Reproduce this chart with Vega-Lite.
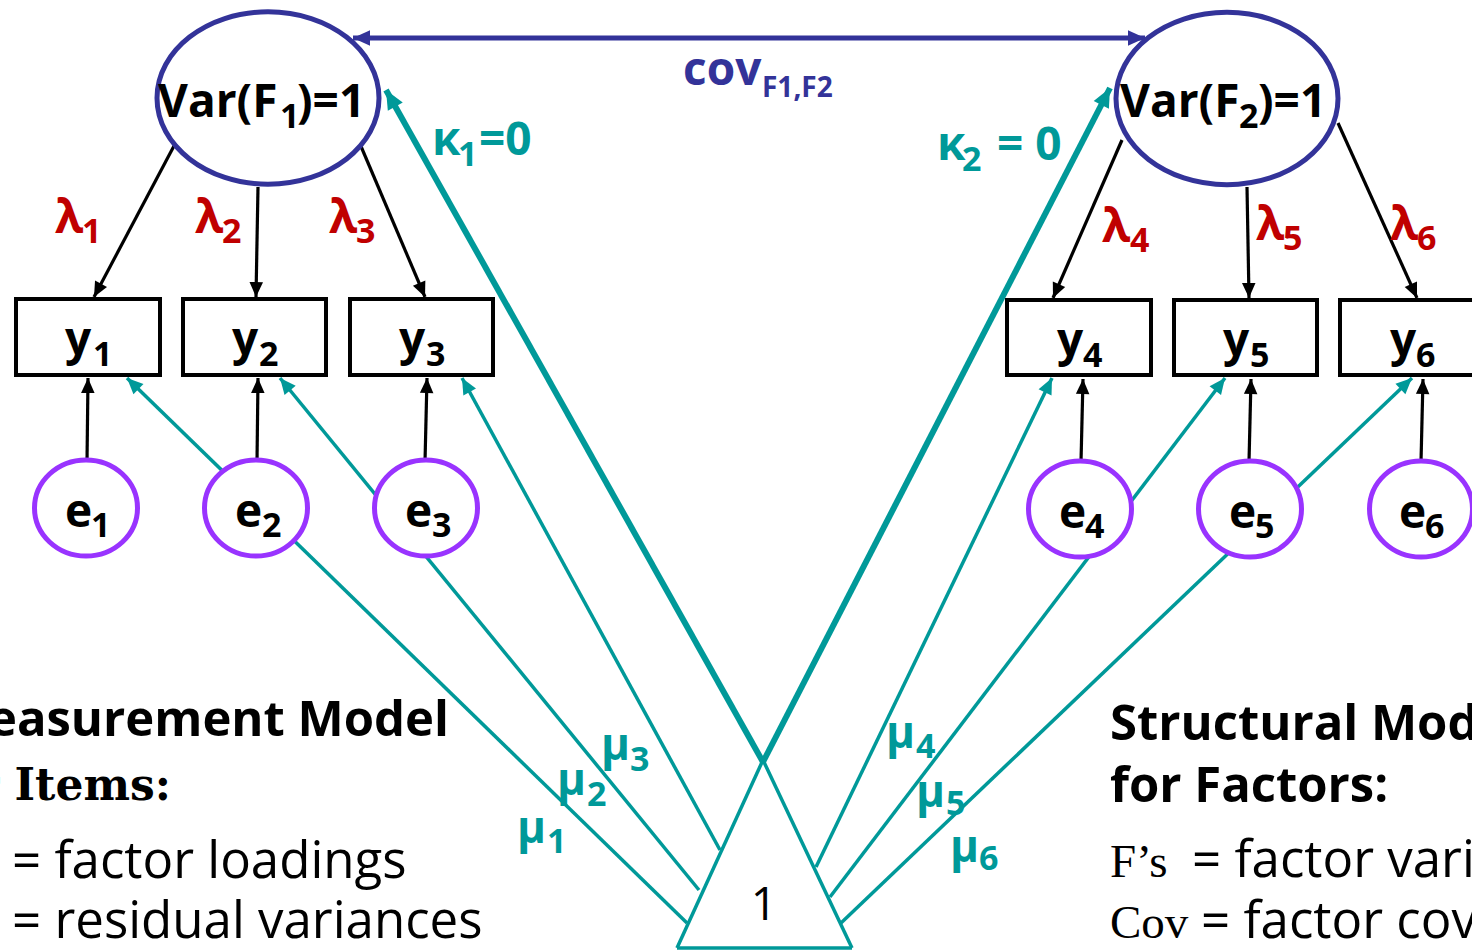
{
  "$schema": "https://vega.github.io/schema/vega-lite/v6.json",
  "width": 1472,
  "height": 950,
  "padding": 0,
  "autosize": {"type": "none"},
  "background": "white",
  "config": {"view": {"stroke": null}},
  "datasets": {
    "edges": [
      {"k": "load", "x": 175, "y": 144, "x2": 94, "y2": 297},
      {"k": "load", "x": 258, "y": 187, "x2": 256, "y2": 297},
      {"k": "load", "x": 360, "y": 144, "x2": 425, "y2": 297},
      {"k": "load", "x": 1122, "y": 140, "x2": 1053, "y2": 298},
      {"k": "load", "x": 1247, "y": 187, "x2": 1249, "y2": 298},
      {"k": "load", "x": 1338, "y": 123, "x2": 1417, "y2": 298},
      {"k": "resid", "x": 87, "y": 462, "x2": 88, "y2": 378},
      {"k": "resid", "x": 257, "y": 462, "x2": 258, "y2": 378},
      {"k": "resid", "x": 425, "y": 462, "x2": 427, "y2": 378},
      {"k": "resid", "x": 1081, "y": 462, "x2": 1083, "y2": 379},
      {"k": "resid", "x": 1249, "y": 462, "x2": 1251, "y2": 379},
      {"k": "resid", "x": 1421, "y": 462, "x2": 1423, "y2": 379},
      {"k": "mu", "x": 687, "y": 923, "x2": 127, "y2": 378},
      {"k": "mu", "x": 699, "y": 890, "x2": 280, "y2": 378},
      {"k": "mu", "x": 720, "y": 850, "x2": 462, "y2": 378},
      {"k": "mu", "x": 816, "y": 867, "x2": 1052, "y2": 378},
      {"k": "mu", "x": 830, "y": 897, "x2": 1225, "y2": 378},
      {"k": "mu", "x": 841, "y": 923, "x2": 1412, "y2": 378},
      {"k": "kappa", "x": 763, "y": 762, "x2": 386, "y2": 90},
      {"k": "kappa", "x": 763, "y": 762, "x2": 1110, "y2": 88},
      {"k": "cov", "x": 750, "y": 38, "x2": 353, "y2": 38},
      {"k": "cov", "x": 750, "y": 38, "x2": 1145, "y2": 38},
      {"k": "tri", "x": 677, "y": 948, "x2": 763, "y2": 760},
      {"k": "tri", "x": 763, "y": 760, "x2": 852, "y2": 948},
      {"k": "tri", "x": 852, "y": 948, "x2": 677, "y2": 948}
    ],
    "fnodes": [
      {"id": "F1", "x": 268, "y": 98},
      {"id": "F2", "x": 1227, "y": 98.5}
    ],
    "enodes": [
      {"id": "e1", "x": 86, "y": 508},
      {"id": "e2", "x": 256, "y": 508},
      {"id": "e3", "x": 426, "y": 508},
      {"id": "e4", "x": 1080, "y": 509},
      {"id": "e5", "x": 1250, "y": 509},
      {"id": "e6", "x": 1421, "y": 509}
    ],
    "boxes": [
      {"id": "y1", "x": 16, "x2": 160, "y": 299, "y2": 375},
      {"id": "y2", "x": 183, "x2": 326, "y": 299, "y2": 375},
      {"id": "y3", "x": 350, "x2": 493, "y": 299, "y2": 375},
      {"id": "y4", "x": 1007, "x2": 1151, "y": 300, "y2": 375},
      {"id": "y5", "x": 1174, "x2": 1317, "y": 300, "y2": 375},
      {"id": "y6", "x": 1340, "x2": 1490, "y": 300, "y2": 375}
    ],
    "labels": [
      {"s": "m", "g": "node", "x": 158, "y": 117, "t": "Var(F"},
      {"s": "s", "g": "node", "x": 280, "y": 128, "t": "1"},
      {"s": "m", "g": "node", "x": 297, "y": 117, "t": ")=1"},
      {"s": "m", "g": "node", "x": 1120, "y": 117, "t": "Var(F"},
      {"s": "s", "g": "node", "x": 1239, "y": 128, "t": "2"},
      {"s": "m", "g": "node", "x": 1258, "y": 117, "t": ")=1"},
      {"s": "m", "g": "cov", "x": 683, "y": 85, "t": "cov"},
      {"s": "ss", "g": "cov", "x": 762, "y": 97, "t": "F1,F2"},
      {"s": "m", "g": "intercept", "x": 432, "y": 155, "t": "κ"},
      {"s": "s", "g": "intercept", "x": 458, "y": 166, "t": "1"},
      {"s": "m", "g": "intercept", "x": 479, "y": 155, "t": "=0"},
      {"s": "m", "g": "intercept", "x": 937, "y": 160, "t": "κ"},
      {"s": "s", "g": "intercept", "x": 962, "y": 171, "t": "2"},
      {"s": "m", "g": "intercept", "x": 997, "y": 160, "t": "= 0"},
      {"s": "m", "g": "loading", "x": 55, "y": 233, "t": "λ"},
      {"s": "s", "g": "loading", "x": 82, "y": 243, "t": "1"},
      {"s": "m", "g": "loading", "x": 195, "y": 233, "t": "λ"},
      {"s": "s", "g": "loading", "x": 222, "y": 243, "t": "2"},
      {"s": "m", "g": "loading", "x": 329, "y": 233, "t": "λ"},
      {"s": "s", "g": "loading", "x": 356, "y": 243, "t": "3"},
      {"s": "m", "g": "loading", "x": 1102, "y": 242, "t": "λ"},
      {"s": "s", "g": "loading", "x": 1130, "y": 252, "t": "4"},
      {"s": "m", "g": "loading", "x": 1256, "y": 240, "t": "λ"},
      {"s": "s", "g": "loading", "x": 1283, "y": 250, "t": "5"},
      {"s": "m", "g": "loading", "x": 1390, "y": 240, "t": "λ"},
      {"s": "s", "g": "loading", "x": 1417, "y": 250, "t": "6"},
      {"s": "m", "g": "node", "x": 65, "y": 355, "t": "y"},
      {"s": "s", "g": "node", "x": 93, "y": 366, "t": "1"},
      {"s": "m", "g": "node", "x": 232, "y": 355, "t": "y"},
      {"s": "s", "g": "node", "x": 259, "y": 366, "t": "2"},
      {"s": "m", "g": "node", "x": 399, "y": 355, "t": "y"},
      {"s": "s", "g": "node", "x": 426, "y": 366, "t": "3"},
      {"s": "m", "g": "node", "x": 1057, "y": 356, "t": "y"},
      {"s": "s", "g": "node", "x": 1083, "y": 367, "t": "4"},
      {"s": "m", "g": "node", "x": 1223, "y": 356, "t": "y"},
      {"s": "s", "g": "node", "x": 1250, "y": 367, "t": "5"},
      {"s": "m", "g": "node", "x": 1390, "y": 356, "t": "y"},
      {"s": "s", "g": "node", "x": 1416, "y": 367, "t": "6"},
      {"s": "m", "g": "node", "x": 65, "y": 527, "t": "e"},
      {"s": "s", "g": "node", "x": 91, "y": 537, "t": "1"},
      {"s": "m", "g": "node", "x": 235, "y": 527, "t": "e"},
      {"s": "s", "g": "node", "x": 262, "y": 537, "t": "2"},
      {"s": "m", "g": "node", "x": 405, "y": 527, "t": "e"},
      {"s": "s", "g": "node", "x": 432, "y": 537, "t": "3"},
      {"s": "m", "g": "node", "x": 1059, "y": 528, "t": "e"},
      {"s": "s", "g": "node", "x": 1085, "y": 538, "t": "4"},
      {"s": "m", "g": "node", "x": 1229, "y": 528, "t": "e"},
      {"s": "s", "g": "node", "x": 1255, "y": 538, "t": "5"},
      {"s": "m", "g": "node", "x": 1399, "y": 528, "t": "e"},
      {"s": "s", "g": "node", "x": 1425, "y": 538, "t": "6"},
      {"s": "mu", "g": "intercept", "x": 517, "y": 843, "t": "μ"},
      {"s": "s", "g": "intercept", "x": 547, "y": 853, "t": "1"},
      {"s": "mu", "g": "intercept", "x": 557, "y": 795, "t": "μ"},
      {"s": "s", "g": "intercept", "x": 587, "y": 806, "t": "2"},
      {"s": "mu", "g": "intercept", "x": 601, "y": 760, "t": "μ"},
      {"s": "s", "g": "intercept", "x": 630, "y": 771, "t": "3"},
      {"s": "mu", "g": "intercept", "x": 886, "y": 748, "t": "μ"},
      {"s": "s", "g": "intercept", "x": 916, "y": 758, "t": "4"},
      {"s": "mu", "g": "intercept", "x": 916, "y": 807, "t": "μ"},
      {"s": "s", "g": "intercept", "x": 946, "y": 815, "t": "5"},
      {"s": "mu", "g": "intercept", "x": 950, "y": 862, "t": "μ"},
      {"s": "s", "g": "intercept", "x": 979, "y": 870, "t": "6"}
    ],
    "notes": [
      {"c": "hl", "x": 449, "y": 736, "t": "Measurement Model"},
      {"c": "hls", "x": 171, "y": 800, "t": "for Items:"},
      {"c": "hr", "x": 1110, "y": 740, "t": "Structural Model"},
      {"c": "hr", "x": 1110, "y": 802, "t": "for Factors:"},
      {"c": "body", "x": 12, "y": 878, "t": "= factor loadings"},
      {"c": "body", "x": 12, "y": 938, "t": "= residual variances"},
      {"c": "body", "x": 1192, "y": 877, "t": "= factor variances"},
      {"c": "body", "x": 1201, "y": 938, "t": "= factor covariances"},
      {"c": "serif", "x": 1110, "y": 877, "t": "F’s"},
      {"c": "serif", "x": 1110, "y": 938, "t": "Cov"},
      {"c": "one", "x": 764, "y": 920, "t": "1"}
    ]
  },
  "layer": [
    {
      "data": {"name": "edges"},
      "transform": [{"filter": "datum.k == 'load' || datum.k == 'resid'"}],
      "mark": {"type": "rule", "color": "#000000", "strokeWidth": 3.2},
      "encoding": {
        "x": {"field": "x", "type": "quantitative", "scale": {"domain": [0, 1472], "nice": false, "zero": false}, "axis": null},
        "y": {"field": "y", "type": "quantitative", "scale": {"domain": [0, 950], "nice": false, "zero": false, "reverse": true}, "axis": null},
        "x2": {"field": "x2"},
        "y2": {"field": "y2"}
      }
    },
    {
      "data": {"name": "edges"},
      "transform": [{"filter": "datum.k == 'mu' || datum.k == 'tri'"}],
      "mark": {"type": "rule", "color": "#009999", "strokeWidth": 3.5},
      "encoding": {
        "x": {"field": "x", "type": "quantitative", "axis": null},
        "y": {"field": "y", "type": "quantitative", "axis": null},
        "x2": {"field": "x2"},
        "y2": {"field": "y2"}
      }
    },
    {
      "data": {"name": "edges"},
      "transform": [{"filter": "datum.k == 'kappa'"}],
      "mark": {"type": "rule", "color": "#009999", "strokeWidth": 6},
      "encoding": {
        "x": {"field": "x", "type": "quantitative", "axis": null},
        "y": {"field": "y", "type": "quantitative", "axis": null},
        "x2": {"field": "x2"},
        "y2": {"field": "y2"}
      }
    },
    {
      "data": {"name": "edges"},
      "transform": [{"filter": "datum.k == 'cov'"}],
      "mark": {"type": "rule", "color": "#333399", "strokeWidth": 5},
      "encoding": {
        "x": {"field": "x", "type": "quantitative", "axis": null},
        "y": {"field": "y", "type": "quantitative", "axis": null},
        "x2": {"field": "x2"},
        "y2": {"field": "y2"}
      }
    },
    {
      "data": {"name": "enodes"},
      "mark": {"type": "point", "shape": "M -1 0 C -1 -0.5153 -0.5523 -0.933 0 -0.933 C 0.5523 -0.933 1 -0.5153 1 0 C 1 0.5153 0.5523 0.933 0 0.933 C -0.5523 0.933 -1 0.5153 -1 0 Z", "size": 10609, "filled": true, "fill": "white", "stroke": "#9933FF", "strokeWidth": 5, "opacity": 1},
      "encoding": {
        "x": {"field": "x", "type": "quantitative", "axis": null},
        "y": {"field": "y", "type": "quantitative", "axis": null}
      }
    },
    {
      "data": {"name": "boxes"},
      "mark": {"type": "rect", "fill": "white", "stroke": "#000000", "strokeWidth": 4},
      "encoding": {
        "x": {"field": "x", "type": "quantitative", "axis": null},
        "y": {"field": "y", "type": "quantitative", "axis": null},
        "x2": {"field": "x2"},
        "y2": {"field": "y2"}
      }
    },
    {
      "data": {"name": "fnodes"},
      "mark": {"type": "point", "shape": "M -1 0 C -1 -0.4286 -0.5523 -0.776 0 -0.776 C 0.5523 -0.776 1 -0.4286 1 0 C 1 0.4286 0.5523 0.776 0 0.776 C -0.5523 0.776 -1 0.4286 -1 0 Z", "size": 49284, "filled": true, "fill": "white", "stroke": "#333399", "strokeWidth": 5, "opacity": 1},
      "encoding": {
        "x": {"field": "x", "type": "quantitative", "axis": null},
        "y": {"field": "y", "type": "quantitative", "axis": null}
      }
    },
    {
      "data": {"name": "edges"},
      "transform": [
        {"filter": "datum.k == 'load' || datum.k == 'resid'"},
        {"calculate": "atan2(datum.x2 - datum.x, datum.y - datum.y2) * 180 / PI", "as": "ang"}
      ],
      "mark": {"type": "point", "shape": "M 0 0 L -0.45 1 L 0.45 1 Z", "size": 900, "filled": true, "opacity": 1, "strokeWidth": 0, "color": "#000000"},
      "encoding": {
        "x": {"field": "x2", "type": "quantitative", "axis": null},
        "y": {"field": "y2", "type": "quantitative", "axis": null},
        "angle": {"field": "ang", "type": "quantitative", "scale": null}
      }
    },
    {
      "data": {"name": "edges"},
      "transform": [
        {"filter": "datum.k == 'mu'"},
        {"calculate": "atan2(datum.x2 - datum.x, datum.y - datum.y2) * 180 / PI", "as": "ang"}
      ],
      "mark": {"type": "point", "shape": "M 0 0 L -0.45 1 L 0.45 1 Z", "size": 1024, "filled": true, "opacity": 1, "strokeWidth": 0, "color": "#009999"},
      "encoding": {
        "x": {"field": "x2", "type": "quantitative", "axis": null},
        "y": {"field": "y2", "type": "quantitative", "axis": null},
        "angle": {"field": "ang", "type": "quantitative", "scale": null}
      }
    },
    {
      "data": {"name": "edges"},
      "transform": [
        {"filter": "datum.k == 'cov'"},
        {"calculate": "atan2(datum.x2 - datum.x, datum.y - datum.y2) * 180 / PI", "as": "ang"}
      ],
      "mark": {"type": "point", "shape": "M 0 0 L -0.45 1 L 0.45 1 Z", "size": 1156, "filled": true, "opacity": 1, "strokeWidth": 0, "color": "#333399"},
      "encoding": {
        "x": {"field": "x2", "type": "quantitative", "axis": null},
        "y": {"field": "y2", "type": "quantitative", "axis": null},
        "angle": {"field": "ang", "type": "quantitative", "scale": null}
      }
    },
    {
      "data": {"name": "edges"},
      "transform": [
        {"filter": "datum.k == 'kappa'"},
        {"calculate": "atan2(datum.x2 - datum.x, datum.y - datum.y2) * 180 / PI", "as": "ang"}
      ],
      "mark": {"type": "point", "shape": "M 0 0 L -0.45 1 L 0.45 1 Z", "size": 1444, "filled": true, "opacity": 1, "strokeWidth": 0, "color": "#009999"},
      "encoding": {
        "x": {"field": "x2", "type": "quantitative", "axis": null},
        "y": {"field": "y2", "type": "quantitative", "axis": null},
        "angle": {"field": "ang", "type": "quantitative", "scale": null}
      }
    },
    {
      "data": {"name": "labels"},
      "transform": [{"filter": "datum.s == 'm'"}],
      "mark": {"type": "text", "align": "left", "baseline": "alphabetic", "font": "Open Sans", "fontWeight": "bold", "fontSize": 46},
      "encoding": {
        "x": {"field": "x", "type": "quantitative", "axis": null},
        "y": {"field": "y", "type": "quantitative", "axis": null},
        "text": {"field": "t"},
        "color": {"field": "g", "type": "nominal", "scale": {"domain": ["node", "loading", "intercept", "cov"], "range": ["#000000", "#C00000", "#009999", "#333399"]}, "legend": null}
      }
    },
    {
      "data": {"name": "labels"},
      "transform": [{"filter": "datum.s == 'mu'"}],
      "mark": {"type": "text", "align": "left", "baseline": "alphabetic", "font": "Open Sans", "fontWeight": "bold", "fontSize": 44},
      "encoding": {
        "x": {"field": "x", "type": "quantitative", "axis": null},
        "y": {"field": "y", "type": "quantitative", "axis": null},
        "text": {"field": "t"},
        "color": {"field": "g", "type": "nominal", "legend": null}
      }
    },
    {
      "data": {"name": "labels"},
      "transform": [{"filter": "datum.s == 's'"}],
      "mark": {"type": "text", "align": "left", "baseline": "alphabetic", "font": "Open Sans", "fontWeight": "bold", "fontSize": 34},
      "encoding": {
        "x": {"field": "x", "type": "quantitative", "axis": null},
        "y": {"field": "y", "type": "quantitative", "axis": null},
        "text": {"field": "t"},
        "color": {"field": "g", "type": "nominal", "legend": null}
      }
    },
    {
      "data": {"name": "labels"},
      "transform": [{"filter": "datum.s == 'ss'"}],
      "mark": {"type": "text", "align": "left", "baseline": "alphabetic", "font": "Open Sans", "fontWeight": "bold", "fontSize": 28},
      "encoding": {
        "x": {"field": "x", "type": "quantitative", "axis": null},
        "y": {"field": "y", "type": "quantitative", "axis": null},
        "text": {"field": "t"},
        "color": {"field": "g", "type": "nominal", "legend": null}
      }
    },
    {
      "data": {"name": "notes"},
      "transform": [{"filter": "datum.c == 'hl'"}],
      "mark": {"type": "text", "align": "right", "baseline": "alphabetic", "font": "Open Sans", "fontWeight": "bold", "fontSize": 49, "color": "#000000"},
      "encoding": {
        "x": {"field": "x", "type": "quantitative", "axis": null},
        "y": {"field": "y", "type": "quantitative", "axis": null},
        "text": {"field": "t"}
      }
    },
    {
      "data": {"name": "notes"},
      "transform": [{"filter": "datum.c == 'hls'"}],
      "mark": {"type": "text", "align": "right", "baseline": "alphabetic", "font": "DejaVu Serif", "fontWeight": "bold", "fontSize": 44, "color": "#000000"},
      "encoding": {
        "x": {"field": "x", "type": "quantitative", "axis": null},
        "y": {"field": "y", "type": "quantitative", "axis": null},
        "text": {"field": "t"}
      }
    },
    {
      "data": {"name": "notes"},
      "transform": [{"filter": "datum.c == 'hr'"}],
      "mark": {"type": "text", "align": "left", "baseline": "alphabetic", "font": "Open Sans", "fontWeight": "bold", "fontSize": 49, "color": "#000000"},
      "encoding": {
        "x": {"field": "x", "type": "quantitative", "axis": null},
        "y": {"field": "y", "type": "quantitative", "axis": null},
        "text": {"field": "t"}
      }
    },
    {
      "data": {"name": "notes"},
      "transform": [{"filter": "datum.c == 'body'"}],
      "mark": {"type": "text", "align": "left", "baseline": "alphabetic", "font": "Open Sans", "fontSize": 51, "color": "#000000"},
      "encoding": {
        "x": {"field": "x", "type": "quantitative", "axis": null},
        "y": {"field": "y", "type": "quantitative", "axis": null},
        "text": {"field": "t"}
      }
    },
    {
      "data": {"name": "notes"},
      "transform": [{"filter": "datum.c == 'serif'"}],
      "mark": {"type": "text", "align": "left", "baseline": "alphabetic", "font": "Liberation Serif", "fontSize": 47, "color": "#000000"},
      "encoding": {
        "x": {"field": "x", "type": "quantitative", "axis": null},
        "y": {"field": "y", "type": "quantitative", "axis": null},
        "text": {"field": "t"}
      }
    },
    {
      "data": {"name": "notes"},
      "transform": [{"filter": "datum.c == 'one'"}],
      "mark": {"type": "text", "align": "center", "baseline": "alphabetic", "font": "Open Sans", "fontSize": 46, "color": "#000000"},
      "encoding": {
        "x": {"field": "x", "type": "quantitative", "axis": null},
        "y": {"field": "y", "type": "quantitative", "axis": null},
        "text": {"field": "t"}
      }
    }
  ]
}
